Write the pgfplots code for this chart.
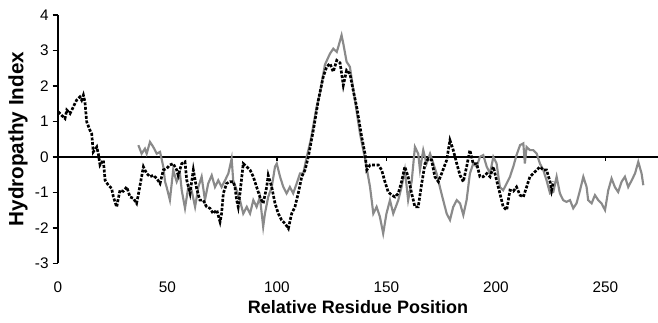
\documentclass[border=0pt]{standalone}
\usepackage{fontspec}
\setmainfont{Liberation Sans}
\usepackage{pgfplots}
\pgfplotsset{compat=1.18}
\definecolor{grayline}{RGB}{138,138,138}
\begin{document}
\begin{tikzpicture}
\begin{axis}[
  scale only axis, width=450pt, height=186.2pt,
  xmin=0, xmax=274, ymin=-3, ymax=4,
  axis y line*=left, axis x line*=bottom,
  x axis line style={draw=none},
  y axis line style={line width=1.1pt},
  xtick={0,50,...,250}, ytick={-3,...,4},
  xtick style={draw=none},
  ytick style={line width=1.1pt, black},
  tick align=outside, major tick length=4pt,
  /pgf/number format/assume math mode=true,
  tick label style={font=\fontsize{11.5}{13}\selectfont},
  xticklabel style={anchor=center, yshift=-14pt},
  yticklabel style={xshift=0.5pt},
  xlabel={Relative Residue Position},
  ylabel={Hydropathy Index},
  xlabel style={font=\fontsize{13.5}{15}\selectfont\bfseries, at={(axis description cs:0.5,-0.176)}, anchor=center},
  ylabel style={font=\fontsize{15.5}{17}\selectfont\bfseries, at={(axis description cs:-0.0667,0.5)}, anchor=center},
  clip=false,
]
\addplot[black, line width=1.4pt] coordinates {(0,0) (274,0)};
\addplot[black, line width=1pt, ycomb] coordinates {(100,-0.12) (150,-0.12) (250,-0.12)};
\addplot[grayline, line width=1.6pt] coordinates {
(36.7,0.33) (38.2,0.09) (39.7,0.23) (40.5,0.09) (42.0,0.42) (43.5,0.28) (45.1,0.09) (46.6,0.14)
(48.1,-0.28) (48.9,-0.70) (49.6,-0.85) (51.1,-1.22) (52.6,-0.37) (54.2,-0.70) (55.7,-0.47) (56.5,-0.94)
(58.0,-1.45) (59.5,-0.85) (61.0,-0.94) (62.6,-1.41) (64.1,-0.85) (65.6,-0.56) (67.1,-1.22) (68.6,-0.75)
(70.2,-0.52) (71.7,-0.85) (73.2,-0.66) (74.7,-0.85) (76.3,-0.66) (77.8,-0.47) (79.3,-0.05) (80.0,-0.66)
(81.6,-0.94) (83.1,-1.22) (84.6,-1.60) (86.2,-1.41) (87.7,-1.60) (89.2,-1.22) (90.7,-1.41) (92.2,-1.13)
(93.7,-1.97) (94.5,-1.60) (96.0,-1.13) (97.6,-0.85) (99.1,-0.28) (99.9,-0.19) (101.4,-0.56) (102.9,-0.85)
(104.4,-1.03) (105.9,-0.85) (107.4,-1.03) (109.0,-0.75) (110.5,-0.47) (112.0,-0.47) (113.6,0.00) (115.5,0.50)
(118.1,1.41) (119.6,1.79) (121.9,2.60) (124.2,2.91) (125.7,3.05) (127.3,2.96) (128.0,3.10) (129.5,3.43)
(130.3,3.19) (131.8,2.68) (133.3,2.54) (135.6,1.60) (137.9,0.66) (140.2,-0.05) (142.5,-0.85) (144.0,-1.60)
(145.5,-1.41) (147.0,-1.69) (148.5,-2.16) (150.0,-1.60) (151.6,-1.22) (153.1,-1.60) (155.4,-1.22) (156.9,-0.85)
(158.4,-0.37) (159.9,-1.22) (161.5,-0.70) (163.0,0.28) (164.5,0.09) (165.3,-0.37) (166.8,0.19) (168.3,-0.19)
(169.9,0.09) (171.4,-0.19) (172.9,-0.47) (174.4,-0.85) (175.9,-1.22) (177.5,-1.60) (179.0,-1.78) (180.5,-1.41)
(182.1,-1.22) (183.6,-1.31) (185.1,-1.64) (186.6,-1.22) (188.1,-0.47) (189.6,-0.19) (191.2,-0.28) (192.7,0.00)
(194.2,0.05) (195.8,-0.28) (197.3,-0.47) (198.8,0.00) (200.3,-0.19) (201.8,-0.85) (203.3,-0.94) (204.9,-0.75)
(206.4,-0.56) (207.9,-0.28) (209.4,0.05) (211.0,0.33) (212.5,0.38) (213.2,-0.19) (214.0,0.28) (215.5,0.19)
(217.0,0.19) (218.6,0.09) (220.1,-0.19) (221.6,-0.37) (223.1,-0.66) (224.7,-1.03) (226.2,-0.99) (227.7,-0.56)
(229.2,-1.03) (230.7,-1.22) (232.2,-1.27) (233.8,-1.22) (235.3,-1.45) (236.8,-1.31) (238.4,-0.94) (239.9,-0.56)
(241.4,-0.85) (242.1,-1.22) (243.7,-1.31) (245.2,-1.08) (246.7,-1.22) (248.2,-1.31) (249.8,-1.50) (251.3,-0.94)
(252.8,-0.61) (254.3,-0.85) (255.8,-0.99) (257.4,-0.70) (258.9,-0.56) (260.4,-0.85) (262.0,-0.66) (263.5,-0.47)
(265.0,-0.14) (266.5,-0.47) (267.3,-0.80)
};
\addplot[black, line width=2pt, dash pattern=on 2.2pt off 1.2pt] coordinates {
(0.1,1.27) (1.7,1.17) (3.2,1.08) (4.0,1.32) (5.5,1.22) (7.0,1.41) (8.5,1.60) (10.0,1.69)
(10.8,1.60) (11.6,1.74) (12.3,1.55) (13.1,0.99) (14.6,0.75) (15.4,0.65) (16.1,0.14) (17.7,0.28)
(18.4,0.09) (19.2,-0.23) (20.7,-0.09) (21.5,-0.66) (23.0,-0.80) (24.5,-0.89) (25.3,-1.13) (26.8,-1.41)
(28.3,-0.94) (29.8,-0.97) (31.4,-0.85) (32.9,-1.13) (34.4,-1.17) (35.9,-1.31) (36.7,-1.06) (39.0,-0.28)
(40.5,-0.47) (42.0,-0.56) (43.5,-0.52) (45.1,-0.61) (46.6,-0.75) (48.1,-0.37) (49.6,-0.33) (51.1,-0.23)
(52.6,-0.19) (54.2,-0.37) (54.9,-0.52) (56.5,-0.19) (58.0,-0.14) (58.8,-0.66) (60.3,-1.03) (61.8,-0.37)
(63.3,-0.89) (64.8,-1.22) (66.3,-1.22) (67.9,-1.41) (69.4,-1.45) (70.9,-1.60) (72.5,-1.50) (74.0,-1.83)
(74.7,-1.60) (75.5,-1.03) (77.0,-0.75) (78.5,-0.70) (80.0,-0.70) (80.8,-0.85) (81.6,-1.22) (82.3,-1.41)
(83.1,-1.03) (84.6,-0.19) (86.2,-0.28) (87.7,-0.37) (89.2,-0.56) (90.7,-0.85) (92.2,-1.13) (93.7,-1.31)
(95.3,-0.85) (96.0,-0.52) (97.6,-0.85) (99.1,-1.31) (100.6,-1.60) (102.1,-1.78) (103.7,-1.88) (105.2,-2.02)
(106.7,-1.60) (108.2,-1.41) (109.7,-1.03) (111.3,-0.56) (112.8,-0.37) (114.3,0.00) (116.6,0.75) (118.9,1.60)
(121.1,2.25) (122.7,2.54) (124.2,2.63) (125.7,2.40) (127.3,2.72) (128.8,2.65) (130.3,2.02) (131.8,2.44)
(133.3,2.35) (134.8,1.88) (136.4,1.41) (137.9,0.85) (138.7,0.56) (140.2,0.09) (141.0,-0.37) (142.5,-0.23)
(144.7,-0.23) (146.3,-0.23) (147.8,-0.37) (149.3,-0.70) (150.8,-0.99) (152.4,-1.08) (153.9,-1.13) (155.4,-1.03)
(156.9,-0.70) (158.4,-0.28) (159.9,-0.56) (161.5,-1.03) (163.0,-1.41) (164.5,-1.41) (166.1,-0.75) (167.6,-0.19)
(169.1,-0.05) (170.6,-0.09) (172.1,-0.56) (173.7,-0.70) (175.2,-0.47) (177.5,-0.09) (179.0,0.47) (180.5,0.19)
(182.1,-0.19) (183.6,-0.52) (185.1,-0.70) (186.6,-0.28) (188.1,0.19) (189.6,-0.19) (191.2,-0.19) (192.7,-0.56)
(194.2,-0.56) (195.8,-0.47) (197.3,-0.56) (198.8,-0.28) (200.3,-0.66) (201.8,-1.03) (203.3,-1.41) (204.9,-1.50)
(206.4,-0.94) (207.9,-0.97) (209.4,-0.85) (211.0,-1.08) (212.5,-1.13) (214.0,-0.85) (215.5,-0.56) (217.0,-0.47)
(218.6,-0.37) (220.1,-0.28) (221.6,-0.37) (223.1,-0.37) (224.7,-0.70) (225.4,-0.94) (226.2,-0.70)
};
\coordinate (bl) at (rel axis cs:0,0);
\end{axis}
\pgfresetboundingbox
\path ([xshift=-43.5pt,yshift=-44.8pt]bl) rectangle ([xshift=450pt,yshift=197.45pt]bl);
\end{tikzpicture}
\end{document}
